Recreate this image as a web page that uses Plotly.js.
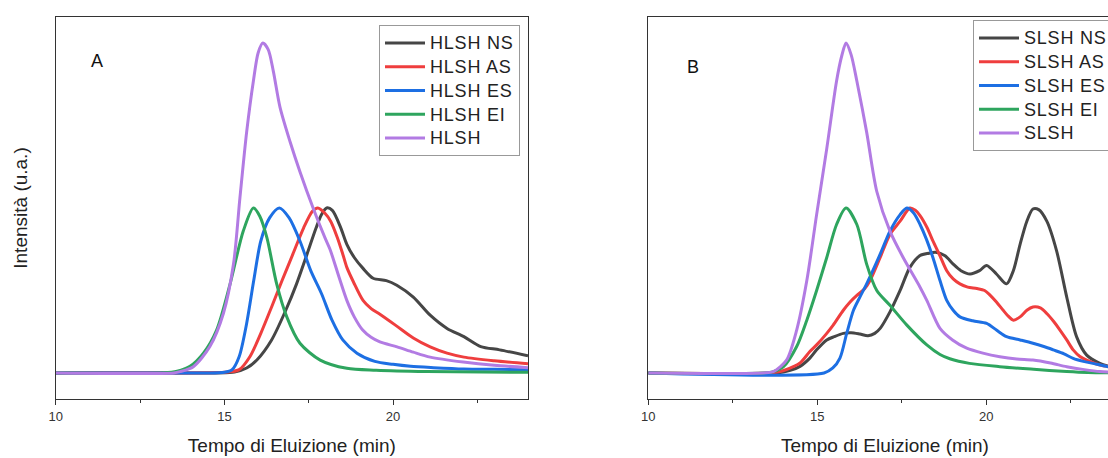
<!DOCTYPE html>
<html>
<head>
<meta charset="utf-8">
<script src="https://cdn.plot.ly/plotly-3.0.1.min.js"></script>
<style>
html, body { margin: 0; padding: 0; overflow: hidden; background: #fff; }
#chart { width: 1130px; height: 458px; }
.legendtext, .legend2text { font-size: 18px !important; letter-spacing: 0.8px !important; }
</style>
</head>
<body>
<div id="chart"></div>
<script>
// ---------- Panel A (HLSH) ----------
const A_NS_t = [10, 13, 15.3, 15.66, 15.97, 16.4, 16.82, 17.14, 17.45, 17.72, 17.88, 18.03, 18.2, 18.45, 18.63, 18.85, 19.11, 19.41, 19.8, 20.11, 20.6, 21.1, 21.6, 22.1, 22.6, 23.16, 24];
const A_NS_i = [0, 0, 0.3, 1.5, 4, 10, 19, 27, 36, 44, 48, 50, 49.3, 44, 39, 35, 31.7, 28.7, 28, 26.6, 23, 17.5, 13.5, 11, 8, 7, 5.2];

const A_AS_t = [10, 13, 15.1, 15.44, 15.76, 16.08, 16.4, 16.71, 17.03, 17.35, 17.61, 17.77, 17.98, 18.15, 18.35, 18.51, 18.63, 18.83, 19.11, 19.35, 19.61, 20.11, 20.6, 21.1, 21.6, 22.1, 23.0, 24];
const A_AS_i = [0, 0, 0.3, 1, 5, 12, 20, 28, 36, 44, 49, 50, 48.4, 46, 41, 36, 32, 27.5, 22, 19.5, 17.8, 14.2, 10.6, 7.9, 6, 4.8, 3.7, 2.8];

const A_ES_t = [10, 13, 15.0, 15.23, 15.44, 15.66, 15.87, 16.08, 16.34, 16.63, 16.92, 17.24, 17.56, 17.88, 18.19, 18.51, 18.93, 19.46, 20.0, 20.52, 21.2, 22.1, 23, 24];
const A_ES_i = [0, 0, 0.2, 1, 5, 15, 28, 40, 47, 50, 47, 40, 31, 24, 16, 10, 6, 3.5, 2.6, 2, 1.6, 1.2, 1.1, 1];

const A_EI_t = [10, 13.2, 13.6, 13.98, 14.38, 14.77, 15.17, 15.56, 15.86, 16.05, 16.26, 16.55, 16.85, 17.24, 17.84, 18.63, 19.5, 21, 24];
const A_EI_i = [0, 0, 0.5, 2, 6, 13, 27, 43, 50, 47.5, 41, 27, 17, 9, 3.9, 1.4, 0.8, 0.4, 0.2];

const A_H_t = [10, 13.5, 13.69, 14.08, 14.57, 14.97, 15.27, 15.46, 15.66, 15.86, 16.0, 16.14, 16.3, 16.45, 16.65, 16.95, 17.24, 17.63, 17.98, 18.13, 18.4, 18.63, 18.85, 19.1, 19.35, 19.61, 20.12, 20.6, 21.1, 22.08, 23, 24];
const A_H_i = [0, 0, 0.4, 1.9, 8, 18, 33, 53, 73, 88.5, 97, 100, 98, 91.5, 80.5, 70, 61, 50, 41, 37.5, 29, 22, 17, 13, 10.8, 9.4, 7.9, 6.3, 4.8, 3.3, 2.3, 1.6];

// ---------- Panel B (SLSH) ----------
const B_NS_t = [10, 13.8, 14.2, 14.49, 14.78, 14.98, 15.28, 15.5, 15.77, 16.0, 16.26, 16.5, 16.7, 16.86, 17.15, 17.45, 17.74, 18.04, 18.3, 18.5, 18.78, 19.02, 19.25, 19.52, 19.8, 20.01, 20.3, 20.6, 20.8, 21.0, 21.2, 21.38, 21.55, 21.79, 22.08, 22.38, 22.67, 22.97, 23.36, 23.7, 24];
const B_NS_i = [0, 0, 0.8, 2, 4.5, 7, 10, 11, 12, 12.2, 11.8, 11.3, 12, 13.5, 18.5, 25, 32, 35.6, 36.3, 36.6, 35.5, 33, 31, 30, 31, 32.6, 30, 27, 31, 39, 46, 49.7, 49.5, 46, 37, 23, 11, 5.4, 2.9, 1.8, 1.2];

const B_AS_t = [10, 13.6, 13.9, 14.29, 14.49, 14.78, 14.98, 15.28, 15.47, 15.77, 15.97, 16.17, 16.4, 16.56, 16.86, 17.15, 17.45, 17.74, 17.9, 18.04, 18.25, 18.42, 18.63, 18.83, 19.02, 19.22, 19.45, 19.72, 19.95, 20.11, 20.3, 20.5, 20.65, 20.8, 21.0, 21.2, 21.38, 21.6, 21.79, 22.0, 22.18, 22.38, 22.57, 22.77, 22.97, 23.36, 23.7, 24];
const B_AS_i = [0, 0, 0.4, 1.9, 3, 6.5, 8.5, 12, 14.5, 19, 21.5, 23.5, 25.5, 28, 35, 42, 46, 50, 49.3, 47.7, 44, 40, 35.5, 31, 28.5, 27, 26, 25.6, 25, 23.6, 21.5, 19, 17.2, 16, 17, 19, 20, 19.7, 18, 15.5, 13, 10, 7, 5, 3.9, 2.4, 1.8, 1.4];

const B_ES_t = [10, 15.2, 15.46, 15.67, 15.87, 16.07, 16.26, 16.46, 16.86, 17.15, 17.45, 17.65, 17.85, 18.04, 18.23, 18.42, 18.63, 18.83, 19.02, 19.22, 19.6, 20.01, 20.3, 20.6, 21.0, 21.38, 21.7, 21.98, 22.3, 22.57, 22.87, 23.16, 23.6, 24];
const B_ES_i = [0, 0, 1.5, 4.5, 12, 19, 23, 27, 36, 43, 48, 50, 48.5, 45, 40.5, 35, 28, 22, 19, 17, 15.8, 15, 13, 11, 10, 9, 8, 7, 5.8, 4.4, 3.5, 2.9, 1.9, 1.4];

const B_EI_t = [10, 13.4, 13.7, 14.0, 14.39, 14.69, 14.98, 15.28, 15.57, 15.85, 16.17, 16.46, 16.76, 17.15, 17.65, 18.24, 18.63, 18.92, 19.5, 20.4, 21.4, 22.38, 23, 24];
const B_EI_i = [0, 0, 0.4, 1.9, 8, 16, 25, 35, 45, 50, 45, 33, 25, 20.5, 14.5, 8.5, 5.6, 4.3, 2.9, 1.9, 1.1, 0.4, 0.1, 0];

const B_H_t = [10, 13.4, 13.7, 14.09, 14.39, 14.69, 14.98, 15.28, 15.57, 15.72, 15.85, 16.0, 16.17, 16.46, 16.76, 17.15, 17.54, 18.04, 18.24, 18.63, 19.0, 19.42, 19.9, 20.4, 20.9, 21.38, 21.9, 22.38, 22.9, 23.36, 24];
const B_H_i = [0, 0, 0.4, 3.9, 13, 28, 48, 68, 88.5, 96, 100, 96.5, 88.5, 73, 55, 43, 35, 26, 22, 13.5, 10, 7.5, 6, 4.9, 4.2, 3.9, 3, 1.9, 1, 0.4, 0.2];

const namesA = ["HLSH NS", "HLSH AS", "HLSH ES", "HLSH EI", "HLSH"];
const namesB = ["SLSH NS", "SLSH AS", "SLSH ES", "SLSH EI", "SLSH"];
const colors = ["#464646", "#ef3e3e", "#1d6fe3", "#2ea55e", "#b27be3"];

const seriesA = [[A_NS_t, A_NS_i], [A_AS_t, A_AS_i], [A_ES_t, A_ES_i], [A_EI_t, A_EI_i], [A_H_t, A_H_i]];
const seriesB = [[B_NS_t, B_NS_i], [B_AS_t, B_AS_i], [B_ES_t, B_ES_i], [B_EI_t, B_EI_i], [B_H_t, B_H_i]];

const font = "Liberation Sans, Arial, sans-serif";
const traces = [];
seriesA.forEach((s, k) => traces.push({
  x: s[0], y: s[1], name: namesA[k], type: "scatter", mode: "lines",
  line: {color: colors[k], width: 3, shape: "spline", smoothing: 0.8},
  xaxis: "x", yaxis: "y", legend: "legend"
}));
seriesB.forEach((s, k) => traces.push({
  x: s[0], y: s[1], name: namesB[k], type: "scatter", mode: "lines",
  line: {color: colors[k], width: 3, shape: "spline", smoothing: 0.8},
  xaxis: "x2", yaxis: "y2", legend: "legend2"
}));

const W = 1130, H = 458;
function xaxisCfg(d0, d1, anchor) {
  return {
    domain: [d0 / W, d1 / W], anchor: anchor, range: [10, 24],
    showline: true, linecolor: "#333", linewidth: 1, mirror: true,
    ticks: "outside", ticklen: 5, tickwidth: 1, tickcolor: "#333",
    tick0: 10, dtick: 5,
    minor: {ticks: "outside", ticklen: 3, tickwidth: 1, tickcolor: "#333", tick0: 10, dtick: 2.5},
    showgrid: false, zeroline: false,
    tickfont: {family: font, size: 13, color: "#333"},
    title: {text: "Tempo di Eluizione (min)", font: {family: font, size: 19, color: "#222"}, standoff: 16}
  };
}
function yaxisCfg(anchor, withTitle) {
  const c = {
    domain: [(H - 399) / H, (H - 17) / H], anchor: anchor, range: [-7.9, 107.9],
    showline: true, linecolor: "#333", linewidth: 1, mirror: true,
    ticks: "", showticklabels: false, showgrid: false, zeroline: false
  };
  if (withTitle) c.title = {text: "Intensità (u.a.)", font: {family: font, size: 19, color: "#222"}, standoff: 22};
  return c;
}

const legendBase = {
  xanchor: "left", yanchor: "top", bgcolor: "#fff",
  bordercolor: "#999", borderwidth: 1,
  itemwidth: 40, tracegroupgap: 0,
  font: {family: font, size: 16, color: "#222"}
};

const layout = {
  width: W, height: H,
  margin: {l: 0, r: 0, t: 0, b: 0},
  paper_bgcolor: "#fff", plot_bgcolor: "#fff",
  font: {family: font},
  xaxis: xaxisCfg(55.7, 528, "y"),
  yaxis: yaxisCfg("x", true),
  xaxis2: xaxisCfg(648.3, 1121.5, "y2"),
  yaxis2: yaxisCfg("x2", false),
  legend: Object.assign({}, legendBase, {x: 379 / W, y: (H - 25) / H}),
  legend2: Object.assign({}, legendBase, {x: 973 / W, y: (H - 20) / H}),
  annotations: [
    {text: "A", xref: "paper", yref: "paper", x: 97 / W, y: (H - 61) / H, xanchor: "center", yanchor: "middle", showarrow: false, font: {family: font, size: 18, color: "#111"}},
    {text: "B", xref: "paper", yref: "paper", x: 693 / W, y: (H - 67) / H, xanchor: "center", yanchor: "middle", showarrow: false, font: {family: font, size: 18, color: "#111"}}
  ],
  showlegend: true
};

Plotly.newPlot("chart", traces, layout, {displayModeBar: false, staticPlot: true});
</script>
</body>
</html>
